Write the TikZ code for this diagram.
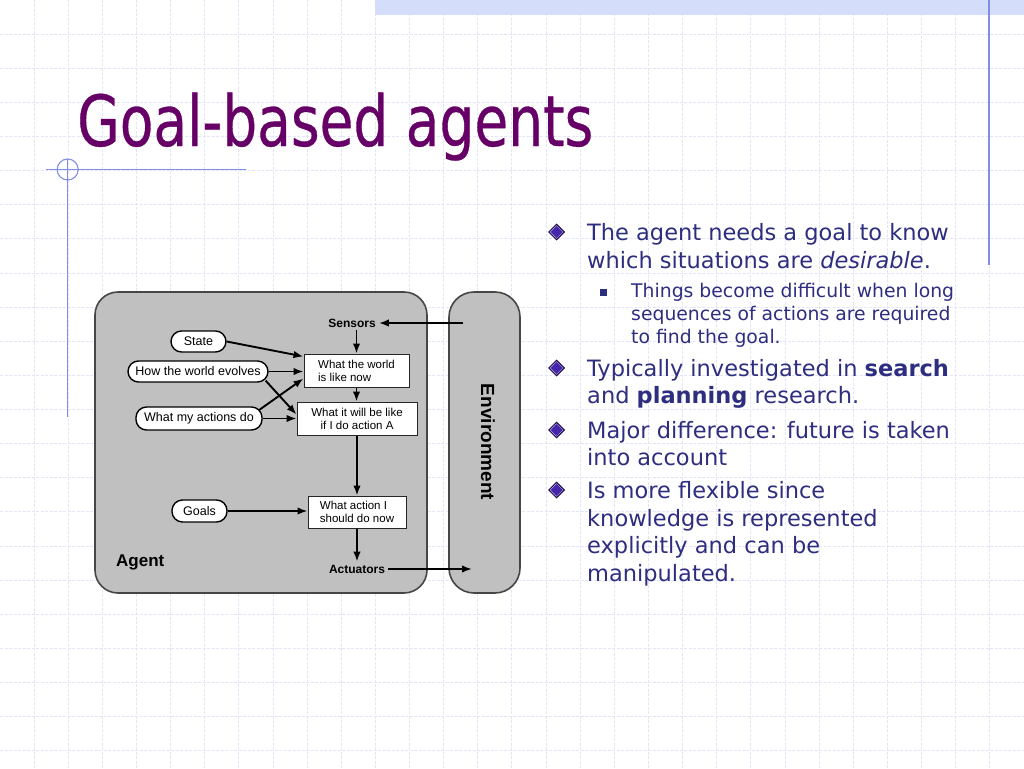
\documentclass[tikz,border=0pt]{standalone}
\usepackage{fontspec}
\setmainfont{DejaVu Sans}
\newfontfamily\bodyfont{DejaVu Sans}
\newfontfamily\titlefont[FakeStretch=0.78,FakeBold=0.45]{DejaVu Sans}
\newfontfamily\diagfont{Liberation Sans}
\usetikzlibrary{arrows.meta,calc}
\definecolor{gridc}{RGB}{228,229,248}
\definecolor{bandc}{RGB}{212,222,250}
\definecolor{decoc}{RGB}{130,142,230}
\definecolor{titlec}{RGB}{102,0,102}
\definecolor{bodyc}{RGB}{46,46,128}
\definecolor{bulout}{RGB}{35,15,90}
\definecolor{bulin}{RGB}{70,38,170}
\definecolor{agentgray}{RGB}{192,192,192}
\definecolor{edgegray}{RGB}{70,70,70}
\tikzset{
  gridline/.style={draw=gridc, line width=1pt, dash pattern=on 3pt off 1.5pt},
  deco/.style={draw=decoc, line width=1.1pt},
  bodytxt/.style={anchor=base west, inner sep=0pt, text=bodyc, font=\bodyfont\fontsize{22.5}{27}\selectfont},
  subtxt/.style={anchor=base west, inner sep=0pt, text=bodyc, font=\bodyfont\fontsize{18.8}{23}\selectfont},
  container/.style={draw=edgegray, fill=agentgray, line width=1.6pt, inner sep=0pt},
  pill/.style={draw=black, fill=white, line width=1.4pt, rounded corners=10.5pt, inner sep=0pt, font=\diagfont\fontsize{12.5}{14}\selectfont},
  infobox/.style={draw=black!85, fill=white, line width=1pt, inner sep=0pt, font=\diagfont\fontsize{11.5}{13}\selectfont},
  arr/.style={draw=black, line width=1.9pt, -{Latex[length=10pt,width=7.5pt]}},
  lab/.style={inner sep=3pt, font=\diagfont\bfseries\fontsize{12}{14}\selectfont},
  pics/bul/.style={code={
    \fill[bulout] (0,-8.5) -- (8.5,0) -- (0,8.5) -- (-8.5,0) -- cycle;
    \fill[white!75!bulin] (0,-6.7) -- (6.7,0) -- (0,6.7) -- (-6.7,0) -- cycle;
    \fill[bulin] (0,-6) -- (6,0) -- (0,6) -- (-6,0) -- cycle;
  }}
}
\begin{document}
\begin{tikzpicture}[x=1pt,y=-1pt]
\useasboundingbox (0,0) rectangle (1024,768);
\fill[white] (0,0) rectangle (1024,768);
% grid
\foreach \k in {1,...,29} \draw[gridline] ({34.13*\k},0) -- ({34.13*\k},768);
\foreach \k in {1,...,22} \draw[gridline] (0,{34.13*\k}) -- (1024,{34.13*\k});
% decorations
\fill[bandc] (375,0) rectangle (1024,15);
\draw[deco] (989,0) -- (989,265);
\draw[deco] (46,169.5) -- (246,169.5);
\draw[deco] (67.7,159) -- (67.7,417);
\draw[deco] (67.7,169.5) circle[radius=10.5];
% title
\node[anchor=base west, inner sep=0pt, text=titlec, font=\titlefont\fontsize{70.5}{84}\selectfont] (title) at (77,146) {Goal-based agents};
% bullets
\pic at (556.5,232) {bul};
\node[bodytxt] (b1a) at (587,240) {The agent needs a goal to know};
\node[bodytxt] (b1b) at (587,268) {which situations are \textit{desirable}.};
\fill[bodyc] (600,289) rectangle (607,296);
\node[subtxt] (s1a) at (631,297) {Things become difficult when long};
\node[subtxt] (s1b) at (631,320) {sequences of actions are required};
\node[subtxt] (s1c) at (631,343) {to find the goal.};
\pic at (556.5,368) {bul};
\node[bodytxt] (b2a) at (587,376) {Typically investigated in \textbf{search}};
\node[bodytxt] (b2b) at (587,403) {and \textbf{planning} research.};
\pic at (556.5,430) {bul};
\node[bodytxt] (b3a) at (587,438) {Major difference: future is taken};
\node[bodytxt] (b3b) at (587,465) {into account};
\pic at (556.5,490) {bul};
\node[bodytxt] (b4a) at (587,498) {Is more flexible since};
\node[bodytxt] (b4b) at (587,526) {knowledge is represented};
\node[bodytxt] (b4c) at (587,553) {explicitly and can be};
\node[bodytxt] (b4d) at (587,581) {manipulated.};
% diagram containers
\draw[container, rounded corners=23pt] (95,292) rectangle (427,593);
\draw[container, rounded corners=25pt] (449,292) rectangle (520,593);
\node[rotate=-90, inner sep=0pt, font=\diagfont\bfseries\fontsize{19}{22}\selectfont] (envlab) at (488,442) {Environment};
\node[anchor=west, inner sep=0pt, font=\diagfont\bfseries\fontsize{17}{20}\selectfont] (agentlab) at (116,562) {Agent};
\node[lab] (sensors) at (352,323) {Sensors};
\node[lab] (actuators) at (357,569) {Actuators};
% pills
\node[pill, minimum width=55pt, minimum height=21pt] (state) at (198.5,341.5) {State};
\node[pill, minimum width=140pt, minimum height=21pt] (how) at (198,371.5) {How the world evolves};
\node[pill, minimum width=126pt, minimum height=23pt] (acts) at (199,418.5) {What my actions do};
\node[pill, minimum width=55pt, minimum height=22pt] (goals) at (199.5,511) {Goals};
% boxes
\node[infobox, minimum width=105pt, minimum height=33pt, align=left] (world) at (356.5,370.5) {What the world\\is like now};
\node[infobox, minimum width=120pt, minimum height=33pt, align=center] (willbe) at (357,418.5) {What it will be like\\if I do action A};
\node[infobox, minimum width=98pt, minimum height=32pt, align=left] (action) at (357,512) {What action I\\should do now};
% coordinates on environment
\coordinate (envin) at (463,323);
\coordinate (envout) at (472,570);
% arrows
\draw[arr] (envin) -- (sensors.east);
\draw[arr] (actuators.east) -- (actuators.east -| envout);
\draw[arr] (sensors.south -| world.north) -- (world.north);
\draw[arr] (state.east) -- ([yshift=-3pt]world.north west);
\draw[arr] (how.east) -- (how.east -| world.west);
\draw[arr] ([xshift=-3pt,yshift=2pt]how.south east) -- ([yshift=-13pt]willbe.north west);
\draw[arr] ([xshift=-4pt,yshift=-4pt]acts.north east) -- ([yshift=9pt]world.south west);
\draw[arr] (acts.east) -- (acts.east -| willbe.west);
\draw[arr] (world.south) -- (world.south |- willbe.north);
\draw[arr] (willbe.south) -- (willbe.south |- action.north);
\draw[arr] (goals.east) -- (goals.east -| action.west);
\draw[arr] (action.south) -- (action.south |- actuators.north);
\end{tikzpicture}
\end{document}
